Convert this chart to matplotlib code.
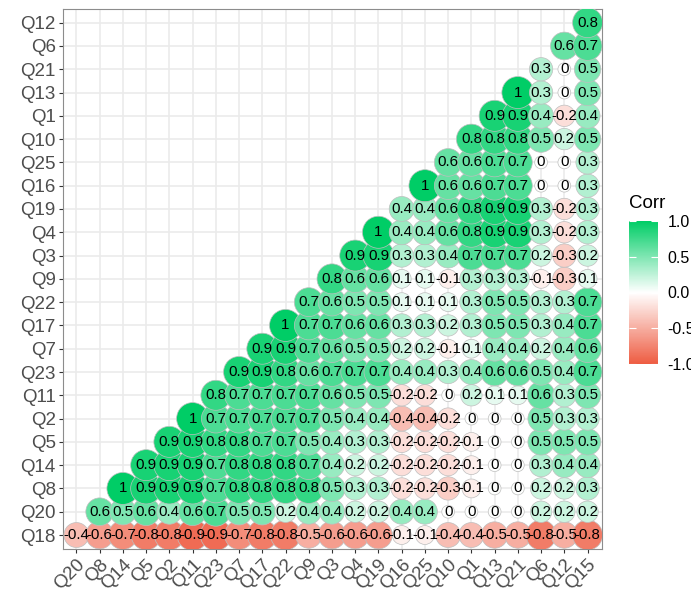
import numpy as np
import matplotlib
matplotlib.use("Agg")
import matplotlib.pyplot as plt
from matplotlib.colors import LinearSegmentedColormap, Normalize
from matplotlib.cm import ScalarMappable

plt.rcParams['font.family'] = ['Liberation Sans', 'DejaVu Sans']

# --------------- [Data] --------------- #
x_labels = ["Q20", "Q8", "Q14", "Q5", "Q2", "Q11", "Q23", "Q7", "Q17", "Q22", "Q9", "Q3",
            "Q4", "Q19", "Q16", "Q25", "Q10", "Q1", "Q13", "Q21", "Q6", "Q12", "Q15"]
y_labels = ["Q18", "Q20", "Q8", "Q14", "Q5", "Q2", "Q11", "Q23", "Q7", "Q17", "Q22", "Q9",
            "Q3", "Q4", "Q19", "Q16", "Q25", "Q10", "Q1", "Q13", "Q21", "Q6", "Q12"]

# lower triangle: row i starts at column i and runs to Q15
q18 = [-0.4, -0.6, -0.7, -0.8, -0.8, -0.9, -0.9, -0.7, -0.8, -0.8, -0.5, -0.6,
       -0.6, -0.6, -0.1, -0.1, -0.4, -0.4, -0.5, -0.5, -0.8, -0.5, -0.8]
q20 = [0.6, 0.5, 0.6, 0.4, 0.6, 0.7, 0.5, 0.5, 0.2, 0.4, 0.4, 0.2,
       0.2, 0.4, 0.4, 0, 0, 0, 0, 0.2, 0.2, 0.2]
q8 = [1, 0.9, 0.9, 0.9, 0.7, 0.8, 0.8, 0.8, 0.8, 0.5, 0.3,
      0.3, -0.2, -0.2, -0.3, -0.1, 0, 0, 0.2, 0.2, 0.3]
q14 = [0.9, 0.9, 0.9, 0.7, 0.8, 0.8, 0.8, 0.7, 0.4, 0.2,
       0.2, -0.2, -0.2, -0.2, -0.1, 0, 0, 0.3, 0.4, 0.4]
q5 = [0.9, 0.9, 0.8, 0.8, 0.7, 0.7, 0.5, 0.4, 0.3, 0.3,
      -0.2, -0.2, -0.2, -0.1, 0, 0, 0.5, 0.5, 0.5]
q2 = [1, 0.7, 0.7, 0.7, 0.7, 0.7, 0.5, 0.4, 0.4,
      -0.4, -0.4, -0.2, 0, 0, 0, 0.5, 0.3, 0.3]
q11 = [0.8, 0.7, 0.7, 0.7, 0.7, 0.6, 0.5, 0.5,
       -0.2, -0.2, 0, 0.2, 0.1, 0.1, 0.6, 0.3, 0.5]
q23 = [0.9, 0.9, 0.8, 0.6, 0.7, 0.7, 0.7, 0.4,
       0.4, 0.3, 0.4, 0.6, 0.6, 0.5, 0.4, 0.7]
q7 = [0.9, 0.9, 0.7, 0.6, 0.5, 0.5, 0.2, 0.2,
      -0.1, 0.1, 0.4, 0.4, 0.2, 0.4, 0.6]
q17 = [1, 0.7, 0.7, 0.6, 0.6, 0.3, 0.3, 0.2, 0.3, 0.5, 0.5, 0.3, 0.4, 0.7]
q22 = [0.7, 0.6, 0.5, 0.5, 0.1, 0.1, 0.1, 0.3, 0.5, 0.5, 0.3, 0.3, 0.7]
q9 = [0.8, 0.6, 0.6, 0.1, 0.1, -0.1, 0.3, 0.3, 0.3, -0.1, -0.3, 0.1]
q3 = [0.9, 0.9, 0.3, 0.3, 0.4, 0.7, 0.7, 0.7, 0.2, -0.3, 0.2]
q4 = [1, 0.4, 0.4, 0.6, 0.8, 0.9, 0.9, 0.3, -0.2, 0.3]
q19 = [0.4, 0.4, 0.6, 0.8, 0.9, 0.9, 0.3, -0.2, 0.3]
q16 = [1, 0.6, 0.6, 0.7, 0.7, 0, 0, 0.3]
q25 = [0.6, 0.6, 0.7, 0.7, 0, 0, 0.3]
q10 = [0.8, 0.8, 0.8, 0.5, 0.2, 0.5]
q1 = [0.9, 0.9, 0.4, -0.2, 0.4]
q13 = [1, 0.3, 0, 0.5]
q21 = [0.3, 0, 0.5]
q6 = [0.6, 0.7]
q12 = [0.8]

rows = [q18, q20, q8, q14, q5, q2, q11, q23, q7, q17, q22, q9,
        q3, q4, q19, q16, q25, q10, q1, q13, q21, q6, q12]

# --------------- [Points] --------------- #
xs, ys, vals = [], [], []
for i, row in enumerate(rows):
    for k, v in enumerate(row):
        xs.append(i + k)
        ys.append(i)
        vals.append(v)
xs = np.array(xs)
ys = np.array(ys)
vals = np.array(vals)

# size grows with sqrt(|r|), like an area scale
size = 4 + 6 * np.sqrt(np.abs(vals))
marker_area = (3.2 * size * 0.72) ** 2

cmap = LinearSegmentedColormap.from_list("corr", ["#EE5C42", "white", "#00CD66"])
norm = Normalize(-1, 1)

# --------------- [Plot] --------------- #
fig = plt.figure(figsize=(6.91, 5.92), dpi=100)
ax = fig.add_axes([62.5 / 691, 43 / 592, 539 / 691, 540.3 / 592])

ax.scatter(xs, ys, s=marker_area, c=vals, cmap=cmap, norm=norm,
           edgecolors="#BEBEBE", linewidths=0.5, zorder=3)
for x, y, v in zip(xs, ys, vals):
    ax.text(x, y, f"{v:g}", ha="center", va="center", fontsize=10.8, color="black", zorder=4)

ax.set_xlim(-0.6, 22.6)
ax.set_ylim(-0.6, 22.6)
ax.set_xticks(range(len(x_labels)))
ax.set_xticklabels(x_labels, rotation=45, ha="right", rotation_mode="anchor")
ax.set_yticks(range(len(y_labels)))
ax.set_yticklabels(y_labels)
ax.tick_params(length=2.7, width=0.8, color="#333333", labelsize=13.5,
               labelcolor="#4D4D4D", pad=2.2)
ax.set_axisbelow(True)
ax.grid(color="#EBEBEB", linewidth=1.2)
for sp in ax.spines.values():
    sp.set_color("#8C8C8C")
    sp.set_linewidth(0.8)

# --------------- [Legend] --------------- #
cax = fig.add_axes([629 / 691, 1 - 364 / 592, 29 / 691, 143 / 592])
cb = fig.colorbar(ScalarMappable(norm=norm, cmap=cmap), cax=cax,
                  ticks=[-1, -0.5, 0, 0.5, 1])
cb.ax.set_yticklabels(["-1.0", "-0.5", "0.0", "0.5", "1.0"])
cb.outline.set_visible(False)
cb.ax.tick_params(direction="in", color="white", length=5, width=0.8,
                  left=True, right=True, labelsize=11.5, pad=7)
fig.text(629 / 691, 1 - 203 / 592, "Corr", fontsize=13.5, ha="left", va="center")

fig.savefig("out.png", dpi=100)
